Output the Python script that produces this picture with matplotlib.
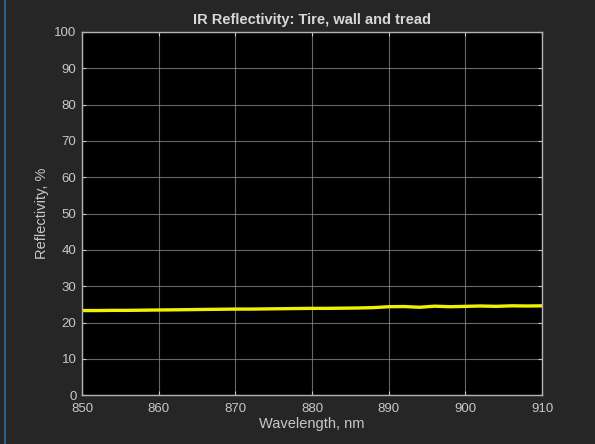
import matplotlib
matplotlib.use('Agg')
import matplotlib.pyplot as plt
from matplotlib.lines import Line2D

# measured reflectivity of tire wall and tread
wavelength = [850, 852, 854, 856, 858, 860, 862, 864, 866, 868, 870,
              872, 874, 876, 878, 880, 882, 884, 886, 888, 890,
              892, 894, 896, 898, 900, 902, 904, 906, 908, 910]
reflectivity = [23.3, 23.3, 23.35, 23.35, 23.4, 23.45, 23.5, 23.55, 23.6, 23.65, 23.7,
                23.7, 23.75, 23.8, 23.85, 23.9, 23.9, 23.95, 24.0, 24.1, 24.35,
                24.4, 24.2, 24.5, 24.35, 24.45, 24.55, 24.45, 24.6, 24.55, 24.6]

x_ticks = [850, 860, 870, 880, 890, 900, 910]
y_ticks = list(range(0, 101, 10))

bg = '#262626'
fg = '#c8c8c8'

plt.rcParams['font.family'] = ['Liberation Sans', 'DejaVu Sans']

fig = plt.figure(figsize=(5.95, 4.44), dpi=100, facecolor=bg)
ax = fig.add_axes([0.138, 0.110, 0.773, 0.818])
ax.set_facecolor('black')

ax.plot(wavelength, reflectivity, color='#f2f200', lw=2.4)

ax.set_xlim(850, 910)
ax.set_ylim(0, 100)
ax.set_xticks(x_ticks)
ax.set_yticks(y_ticks)
ax.grid(True, color='#8a8a8a', lw=0.8, alpha=0.75)
ax.set_axisbelow(True)

for s in ax.spines.values():
    s.set_color('#b4b4b4')
    s.set_linewidth(1.0)
ax.tick_params(colors=fg, labelsize=9.5, direction='in', length=3,
               top=True, right=True)
ax.tick_params(axis='x', pad=6)
ax.tick_params(axis='y', pad=4)

ax.set_title('IR Reflectivity: Tire, wall and tread', color='#d8d8d8',
             fontsize=10.5, fontweight='bold', pad=6)
ax.set_xlabel('Wavelength, nm', color=fg, fontsize=10.5, labelpad=1)
ax.set_ylabel('Reflectivity, %', color=fg, fontsize=10.5, labelpad=4)

# window edge on the left
fig.add_artist(Line2D([0.008, 0.008], [0, 1], color='#2a6ea6', lw=1.2))

fig.savefig('out.png', dpi=100, facecolor=bg)
